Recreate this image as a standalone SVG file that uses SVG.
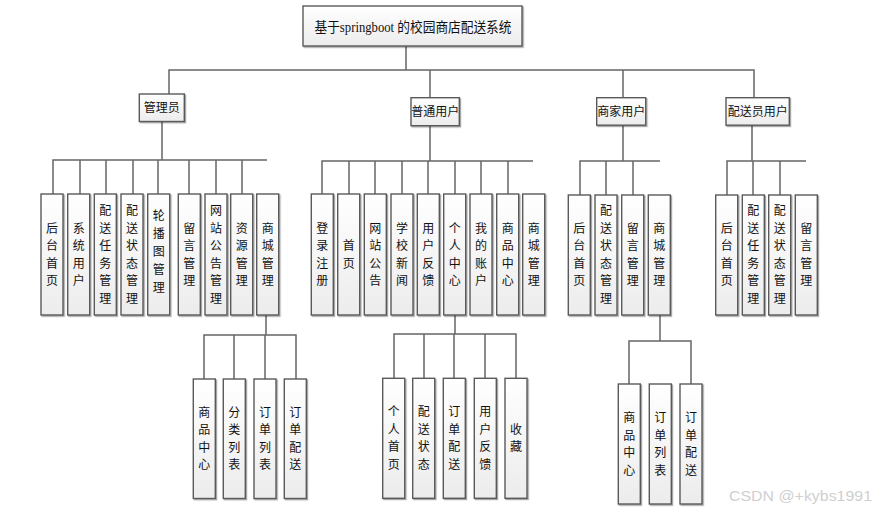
<svg xmlns="http://www.w3.org/2000/svg" width="878" height="512" viewBox="0 0 878 512">
<defs>
<linearGradient id="gf" x1="0" y1="0" x2="0" y2="1">
<stop offset="0" stop-color="#ffffff"/>
<stop offset="1" stop-color="#ececec"/>
</linearGradient>
<filter id="sh" x="-20%" y="-20%" width="140%" height="140%">
<feDropShadow dx="1.2" dy="1.2" stdDeviation="0.6" flood-color="#000" flood-opacity="0.35"/>
</filter>
<style>
.box{fill:url(#gf);stroke:#5a5a5a;stroke-width:1.4;filter:url(#sh)}
.ln{fill:none;stroke:#666;stroke-width:1.5}
.t{font-family:"Noto Sans CJK SC","Noto Sans",sans-serif;font-size:12px;fill:#111;text-anchor:middle}
.tt{font-family:"Liberation Serif","Noto Sans CJK SC",serif;font-size:14px;fill:#111;text-anchor:middle}
.wm{font-family:"Liberation Sans",Arial,sans-serif;font-size:14px;fill:#cfcfcf}
</style>
</defs>
<rect width="878" height="512" fill="#fff"/>
<g id="connectors">
<path class="ln" d="M406 46V70M169 94V70H754V97.7M430 70V97.7M623 70V97.7"/>
<path class="ln" d="M162 121V160M53 194V160H267M80 160V194M106 160V194M133 160V194M158 160V194M189 160V194M216 160V194M242 160V194"/>
<path class="ln" d="M430 125.7V161M322 194V161H533M349 161V194M375 161V194M402 161V194M428 161V194M455 161V194M481 161V194M508 161V194"/>
<path class="ln" d="M623 125.7V161M580 195V161H660M606 161V195M633 161V195"/>
<path class="ln" d="M752 125.7V161M727 195V161H806M753 161V195M780 161V195"/>
<path class="ln" d="M266 315V335M204 379V335H296V379M234 335V379M265 335V379"/>
<path class="ln" d="M455 315V334M394 378V334H516V378M424 334V378M454 334V378M485 334V378"/>
<path class="ln" d="M660 315V341M629 384V341H691V384"/>
</g>
<g id="root"><rect class="box" x="303" y="6" width="219" height="40"/><text class="tt" x="413" y="31.5" textLength="197" lengthAdjust="spacingAndGlyphs">基于springboot 的校园商店配送系统</text></g>
<g id="admin"><rect class="box" x="139.3" y="94" width="45" height="27.5"/><text class="t" x="161.8" y="112">管理员</text></g>
<g id="user"><rect class="box" x="411" y="97.7" width="48.3" height="28"/><text class="t" x="435.2" y="116">普通用户</text></g>
<g id="merchant"><rect class="box" x="596.7" y="97.7" width="49" height="27.5"/><text class="t" x="621.2" y="116">商家用户</text></g>
<g id="courier"><rect class="box" x="726" y="97.7" width="63.3" height="27.5"/><text class="t" x="757.7" y="116">配送员用户</text></g>

<g id="a1"><rect class="box" x="41" y="194" width="22" height="121"/><text class="t"><tspan x="52" y="232.75">后</tspan><tspan x="52" y="250.25">台</tspan><tspan x="52" y="267.75">首</tspan><tspan x="52" y="285.25">页</tspan></text></g>
<g id="a2"><rect class="box" x="67.7" y="194" width="22" height="121"/><text class="t"><tspan x="78.7" y="232.75">系</tspan><tspan x="78.7" y="250.25">统</tspan><tspan x="78.7" y="267.75">用</tspan><tspan x="78.7" y="285.25">户</tspan></text></g>
<g id="a3"><rect class="box" x="94.3" y="194" width="22" height="121"/><text class="t"><tspan x="105.3" y="215.25">配</tspan><tspan x="105.3" y="232.75">送</tspan><tspan x="105.3" y="250.25">任</tspan><tspan x="105.3" y="267.75">务</tspan><tspan x="105.3" y="285.25">管</tspan><tspan x="105.3" y="302.75">理</tspan></text></g>
<g id="a4"><rect class="box" x="121" y="194" width="22" height="121"/><text class="t"><tspan x="132" y="215.25">配</tspan><tspan x="132" y="232.75">送</tspan><tspan x="132" y="250.25">状</tspan><tspan x="132" y="267.75">态</tspan><tspan x="132" y="285.25">管</tspan><tspan x="132" y="302.75">理</tspan></text></g>
<g id="a5"><rect class="box" x="147.7" y="194" width="22" height="121"/><text class="t"><tspan x="158.7" y="219.5">轮</tspan><tspan x="158.7" y="237.5">播</tspan><tspan x="158.7" y="255.5">图</tspan><tspan x="158.7" y="273.5">管</tspan><tspan x="158.7" y="291.5">理</tspan></text></g>
<g id="a6"><rect class="box" x="178.3" y="194" width="22" height="121"/><text class="t"><tspan x="189.3" y="232.75">留</tspan><tspan x="189.3" y="250.25">言</tspan><tspan x="189.3" y="267.75">管</tspan><tspan x="189.3" y="285.25">理</tspan></text></g>
<g id="a7"><rect class="box" x="205" y="194" width="22" height="121"/><text class="t"><tspan x="216" y="215.25">网</tspan><tspan x="216" y="232.75">站</tspan><tspan x="216" y="250.25">公</tspan><tspan x="216" y="267.75">告</tspan><tspan x="216" y="285.25">管</tspan><tspan x="216" y="302.75">理</tspan></text></g>
<g id="a8"><rect class="box" x="230.7" y="194" width="22" height="121"/><text class="t"><tspan x="241.7" y="232.75">资</tspan><tspan x="241.7" y="250.25">源</tspan><tspan x="241.7" y="267.75">管</tspan><tspan x="241.7" y="285.25">理</tspan></text></g>
<g id="a9"><rect class="box" x="256.7" y="194" width="22" height="121"/><text class="t"><tspan x="267.7" y="232.75">商</tspan><tspan x="267.7" y="250.25">城</tspan><tspan x="267.7" y="267.75">管</tspan><tspan x="267.7" y="285.25">理</tspan></text></g>

<g id="u1"><rect class="box" x="311.3" y="194" width="22" height="121"/><text class="t"><tspan x="322.3" y="232.75">登</tspan><tspan x="322.3" y="250.25">录</tspan><tspan x="322.3" y="267.75">注</tspan><tspan x="322.3" y="285.25">册</tspan></text></g>
<g id="u2"><rect class="box" x="337.7" y="194" width="22" height="121"/><text class="t"><tspan x="348.7" y="250.25">首</tspan><tspan x="348.7" y="267.75">页</tspan></text></g>
<g id="u3"><rect class="box" x="364.3" y="194" width="22" height="121"/><text class="t"><tspan x="375.3" y="232.75">网</tspan><tspan x="375.3" y="250.25">站</tspan><tspan x="375.3" y="267.75">公</tspan><tspan x="375.3" y="285.25">告</tspan></text></g>
<g id="u4"><rect class="box" x="391" y="194" width="22" height="121"/><text class="t"><tspan x="402" y="232.75">学</tspan><tspan x="402" y="250.25">校</tspan><tspan x="402" y="267.75">新</tspan><tspan x="402" y="285.25">闻</tspan></text></g>
<g id="u5"><rect class="box" x="417.3" y="194" width="22" height="121"/><text class="t"><tspan x="428.3" y="232.75">用</tspan><tspan x="428.3" y="250.25">户</tspan><tspan x="428.3" y="267.75">反</tspan><tspan x="428.3" y="285.25">馈</tspan></text></g>
<g id="u6"><rect class="box" x="443.7" y="194" width="22" height="121"/><text class="t"><tspan x="454.7" y="232.75">个</tspan><tspan x="454.7" y="250.25">人</tspan><tspan x="454.7" y="267.75">中</tspan><tspan x="454.7" y="285.25">心</tspan></text></g>
<g id="u7"><rect class="box" x="470" y="194" width="22" height="121"/><text class="t"><tspan x="481" y="232.75">我</tspan><tspan x="481" y="250.25">的</tspan><tspan x="481" y="267.75">账</tspan><tspan x="481" y="285.25">户</tspan></text></g>
<g id="u8"><rect class="box" x="496.7" y="194" width="22" height="121"/><text class="t"><tspan x="507.7" y="232.75">商</tspan><tspan x="507.7" y="250.25">品</tspan><tspan x="507.7" y="267.75">中</tspan><tspan x="507.7" y="285.25">心</tspan></text></g>
<g id="u9"><rect class="box" x="522.7" y="194" width="22" height="121"/><text class="t"><tspan x="533.7" y="232.75">商</tspan><tspan x="533.7" y="250.25">城</tspan><tspan x="533.7" y="267.75">管</tspan><tspan x="533.7" y="285.25">理</tspan></text></g>

<g id="m1"><rect class="box" x="568.3" y="195" width="22" height="120"/><text class="t"><tspan x="579.3" y="232.75">后</tspan><tspan x="579.3" y="250.25">台</tspan><tspan x="579.3" y="267.75">首</tspan><tspan x="579.3" y="285.25">页</tspan></text></g>
<g id="m2"><rect class="box" x="595" y="195" width="22" height="120"/><text class="t"><tspan x="606" y="215.25">配</tspan><tspan x="606" y="232.75">送</tspan><tspan x="606" y="250.25">状</tspan><tspan x="606" y="267.75">态</tspan><tspan x="606" y="285.25">管</tspan><tspan x="606" y="302.75">理</tspan></text></g>
<g id="m3"><rect class="box" x="621.7" y="195" width="22" height="120"/><text class="t"><tspan x="632.7" y="232.75">留</tspan><tspan x="632.7" y="250.25">言</tspan><tspan x="632.7" y="267.75">管</tspan><tspan x="632.7" y="285.25">理</tspan></text></g>
<g id="m4"><rect class="box" x="648.3" y="195" width="22" height="120"/><text class="t"><tspan x="659.3" y="232.75">商</tspan><tspan x="659.3" y="250.25">城</tspan><tspan x="659.3" y="267.75">管</tspan><tspan x="659.3" y="285.25">理</tspan></text></g>

<g id="c1"><rect class="box" x="715.7" y="195" width="22" height="120"/><text class="t"><tspan x="726.7" y="232.75">后</tspan><tspan x="726.7" y="250.25">台</tspan><tspan x="726.7" y="267.75">首</tspan><tspan x="726.7" y="285.25">页</tspan></text></g>
<g id="c2"><rect class="box" x="742.3" y="195" width="22" height="120"/><text class="t"><tspan x="753.3" y="215.25">配</tspan><tspan x="753.3" y="232.75">送</tspan><tspan x="753.3" y="250.25">任</tspan><tspan x="753.3" y="267.75">务</tspan><tspan x="753.3" y="285.25">管</tspan><tspan x="753.3" y="302.75">理</tspan></text></g>
<g id="c3"><rect class="box" x="768.7" y="195" width="22" height="120"/><text class="t"><tspan x="779.7" y="215.25">配</tspan><tspan x="779.7" y="232.75">送</tspan><tspan x="779.7" y="250.25">状</tspan><tspan x="779.7" y="267.75">态</tspan><tspan x="779.7" y="285.25">管</tspan><tspan x="779.7" y="302.75">理</tspan></text></g>
<g id="c4"><rect class="box" x="795.3" y="195" width="22" height="120"/><text class="t"><tspan x="806.3" y="232.75">留</tspan><tspan x="806.3" y="250.25">言</tspan><tspan x="806.3" y="267.75">管</tspan><tspan x="806.3" y="285.25">理</tspan></text></g>

<g id="a9-1"><rect class="box" x="193.3" y="379" width="22" height="119.5"/><text class="t"><tspan x="204.3" y="416.5">商</tspan><tspan x="204.3" y="434">品</tspan><tspan x="204.3" y="451.5">中</tspan><tspan x="204.3" y="469">心</tspan></text></g>
<g id="a9-2"><rect class="box" x="223.3" y="379" width="22" height="119.5"/><text class="t"><tspan x="234.3" y="416.5">分</tspan><tspan x="234.3" y="434">类</tspan><tspan x="234.3" y="451.5">列</tspan><tspan x="234.3" y="469">表</tspan></text></g>
<g id="a9-3"><rect class="box" x="254" y="379" width="22" height="119.5"/><text class="t"><tspan x="265" y="416.5">订</tspan><tspan x="265" y="434">单</tspan><tspan x="265" y="451.5">列</tspan><tspan x="265" y="469">表</tspan></text></g>
<g id="a9-4"><rect class="box" x="284.3" y="379" width="22" height="119.5"/><text class="t"><tspan x="295.3" y="416.5">订</tspan><tspan x="295.3" y="434">单</tspan><tspan x="295.3" y="451.5">配</tspan><tspan x="295.3" y="469">送</tspan></text></g>

<g id="u6-1"><rect class="box" x="382.7" y="378.3" width="22" height="120"/><text class="t"><tspan x="393.7" y="416">个</tspan><tspan x="393.7" y="433.5">人</tspan><tspan x="393.7" y="451">首</tspan><tspan x="393.7" y="468.5">页</tspan></text></g>
<g id="u6-2"><rect class="box" x="412.7" y="378.3" width="22" height="120"/><text class="t"><tspan x="423.7" y="416">配</tspan><tspan x="423.7" y="433.5">送</tspan><tspan x="423.7" y="451">状</tspan><tspan x="423.7" y="468.5">态</tspan></text></g>
<g id="u6-3"><rect class="box" x="443.3" y="378.3" width="22" height="120"/><text class="t"><tspan x="454.3" y="416">订</tspan><tspan x="454.3" y="433.5">单</tspan><tspan x="454.3" y="451">配</tspan><tspan x="454.3" y="468.5">送</tspan></text></g>
<g id="u6-4"><rect class="box" x="474.3" y="378.3" width="22" height="120"/><text class="t"><tspan x="485.3" y="416">用</tspan><tspan x="485.3" y="433.5">户</tspan><tspan x="485.3" y="451">反</tspan><tspan x="485.3" y="468.5">馈</tspan></text></g>
<g id="u6-5"><rect class="box" x="505" y="378.3" width="22" height="120"/><text class="t"><tspan x="516" y="433.5">收</tspan><tspan x="516" y="451">藏</tspan></text></g>

<g id="m4-1"><rect class="box" x="618.3" y="384" width="22" height="120"/><text class="t"><tspan x="629.3" y="422">商</tspan><tspan x="629.3" y="439.5">品</tspan><tspan x="629.3" y="457">中</tspan><tspan x="629.3" y="474.5">心</tspan></text></g>
<g id="m4-2"><rect class="box" x="649.3" y="384" width="22" height="120"/><text class="t"><tspan x="660.3" y="422">订</tspan><tspan x="660.3" y="439.5">单</tspan><tspan x="660.3" y="457">列</tspan><tspan x="660.3" y="474.5">表</tspan></text></g>
<g id="m4-3"><rect class="box" x="680" y="384" width="22" height="120"/><text class="t"><tspan x="691" y="422">订</tspan><tspan x="691" y="439.5">单</tspan><tspan x="691" y="457">配</tspan><tspan x="691" y="474.5">送</tspan></text></g>

<text class="wm" x="729" y="501" textLength="143" lengthAdjust="spacingAndGlyphs">CSDN @+kybs1991</text>
</svg>
